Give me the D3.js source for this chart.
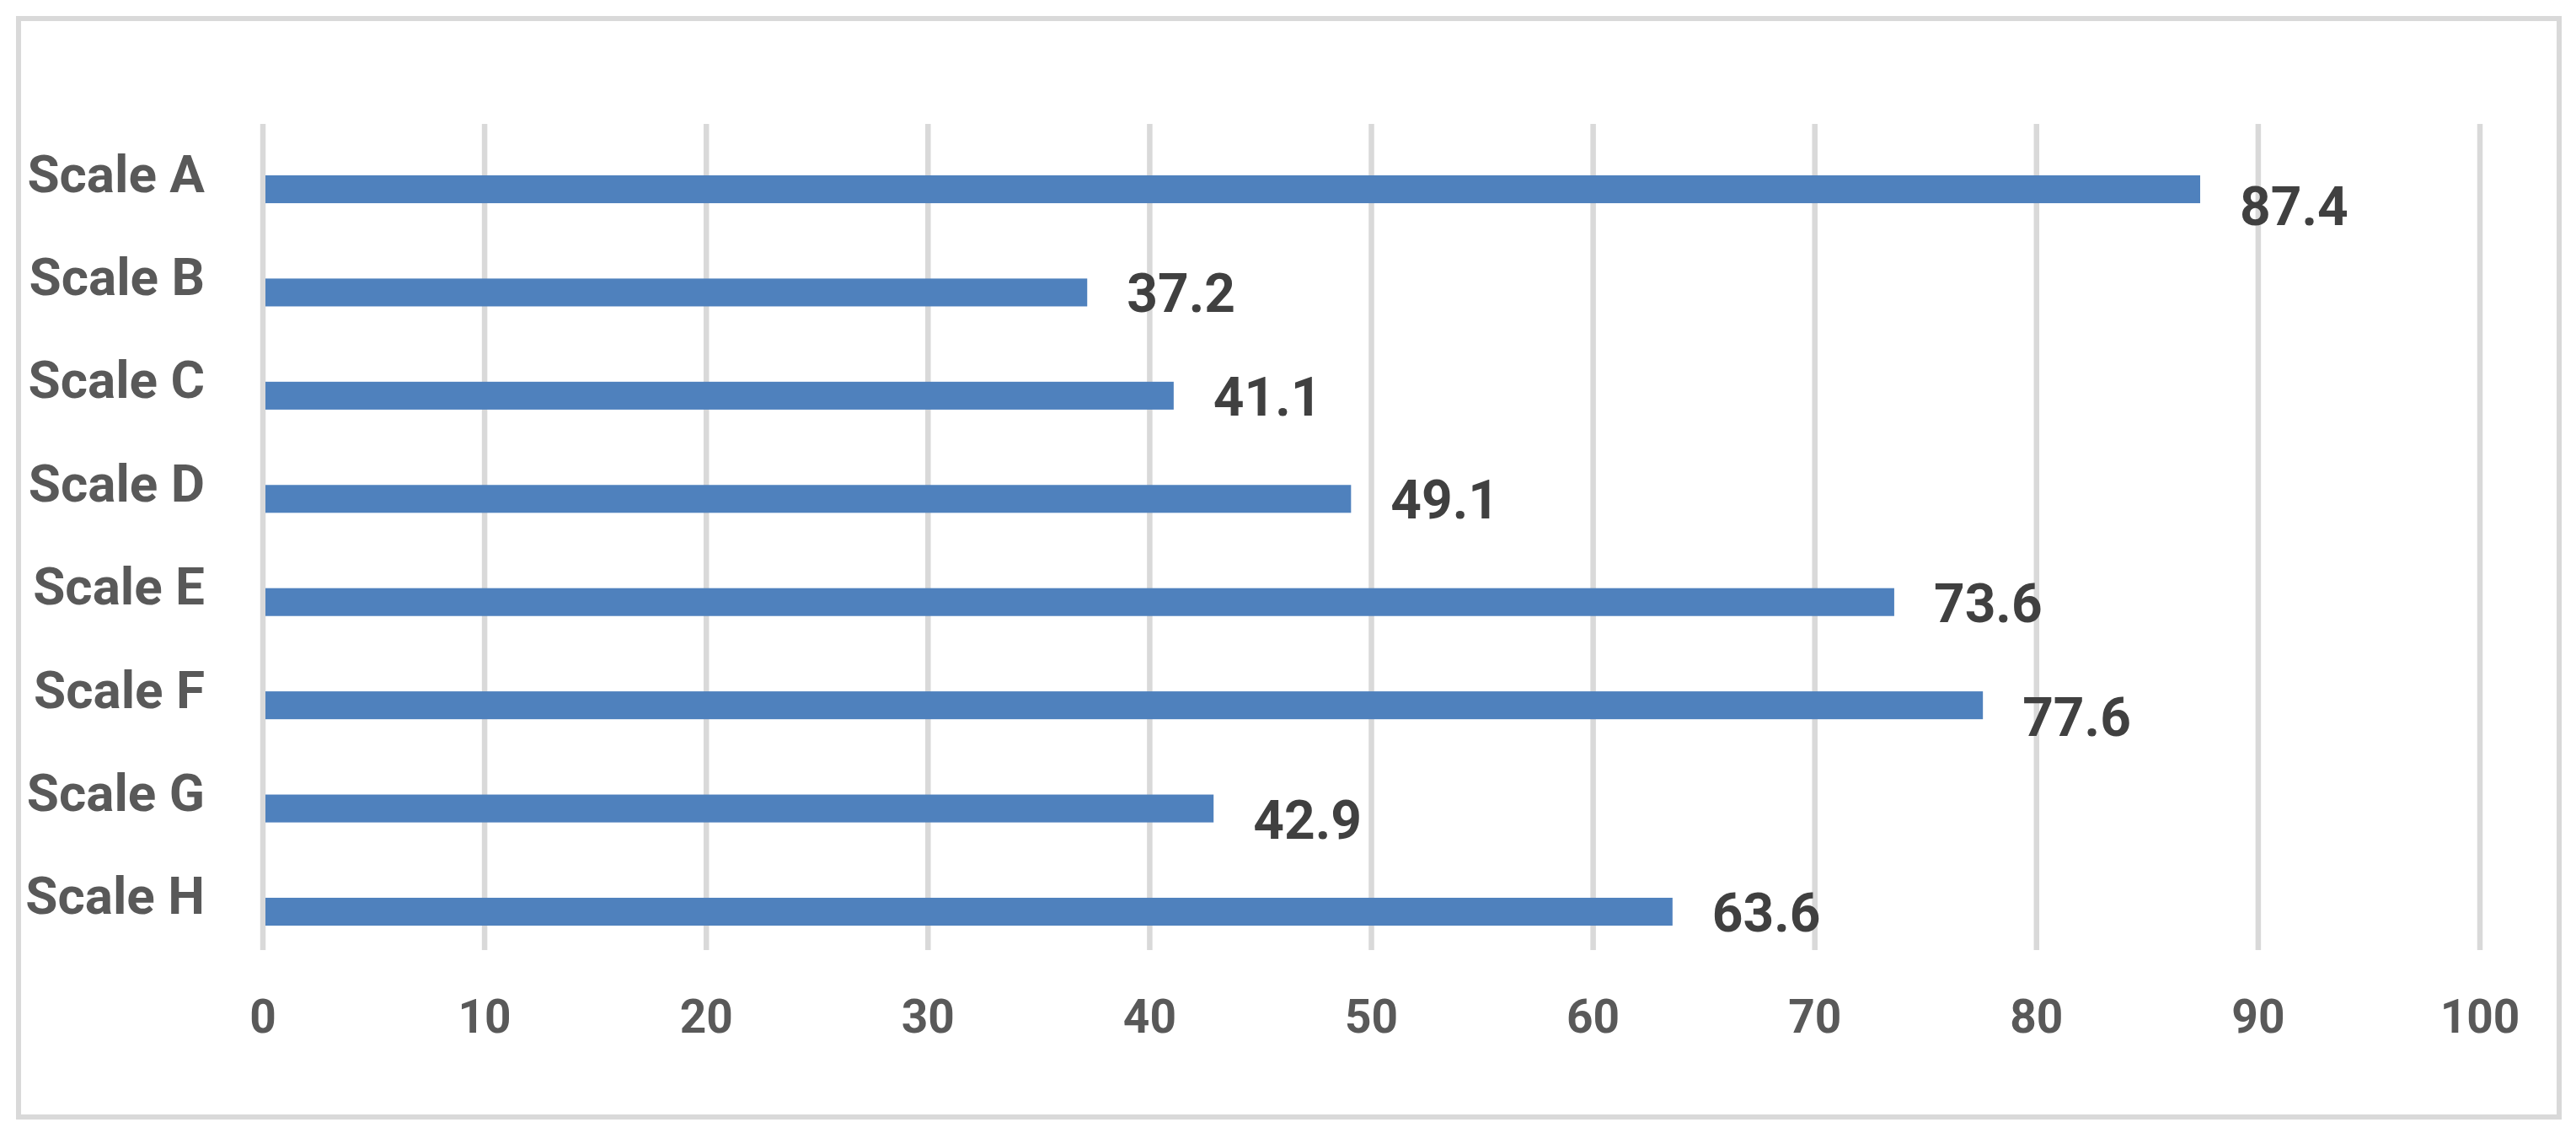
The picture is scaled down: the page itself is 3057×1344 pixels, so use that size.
<!DOCTYPE html>
<html>
<head>
<meta charset="utf-8">
<script src="https://cdn.jsdelivr.net/npm/d3@7"></script>
<style>
  html, body { margin: 0; padding: 0; background: #ffffff; }
  svg { display: block; }
</style>
</head>
<body>
<svg id="chart" width="3057" height="1344"></svg>
<script>
// ---- data ----
const categories = ["Scale A", "Scale B", "Scale C", "Scale D", "Scale E", "Scale F", "Scale G", "Scale H"];
const values = [87.4, 37.2, 41.1, 49.1, 73.6, 77.6, 42.9, 63.6];
const tickValues = [0, 10, 20, 30, 40, 50, 60, 70, 80, 90, 100];

// ---- layout (not data) ----
const W = 3057, H = 1344;
const gridTop = 147, gridBottom = 1127;
const labelNudge = [19, 0, 0, 0, 0, 13, 12, 0]; // vertical offsets of value labels as placed in the original

const svg = d3.select("#chart");

// outer frame
svg.append("rect")
  .attr("x", 22).attr("y", 22)
  .attr("width", 3037 - 22).attr("height", 1325 - 22)
  .attr("fill", "#ffffff")
  .attr("stroke", "#d9d9d9")
  .attr("stroke-width", 6);

const x = d3.scaleLinear().domain([0, 100]).range([311.5, 2942.5]);
const y = d3.scaleBand().domain(categories)
  .range([163.3, 1142.7])
  .paddingInner(0.73)
  .paddingOuter(0.365);

// x axis with gridlines
const axis = svg.append("g")
  .attr("transform", `translate(0,${gridBottom})`)
  .call(d3.axisBottom(x)
    .tickValues(tickValues)
    .tickSizeInner(-(gridBottom - gridTop))
    .tickSizeOuter(0)
    .tickFormat(d3.format("d")));
axis.select(".domain").remove();
axis.selectAll(".tick line")
  .attr("stroke", "#d9d9d9")
  .attr("stroke-width", 6.5);
axis.selectAll(".tick text")
  .attr("y", 98)
  .attr("dy", 0)
  .attr("fill", "#595959")
  .style("font-family", "Roboto, 'Liberation Sans', sans-serif")
  .style("font-weight", "700")
  .style("font-size", "55px");

// bars
svg.append("g").selectAll("rect")
  .data(values)
  .join("rect")
  .attr("x", x(0) + 3.5)
  .attr("y", (d, i) => y(categories[i]))
  .attr("width", d => x(d) - x(0) - 3.5)
  .attr("height", y.bandwidth())
  .attr("fill", "#4f81bd");

// category labels
svg.append("g").selectAll("text")
  .data(categories)
  .join("text")
  .attr("x", 243)
  .attr("y", d => y(d) + y.bandwidth() / 2 + 3)
  .attr("text-anchor", "end")
  .attr("fill", "#595959")
  .style("font-family", "Roboto, 'Liberation Sans', sans-serif")
  .style("font-weight", "700")
  .style("font-size", "62px")
  .text(d => d);

// value labels
svg.append("g").selectAll("text")
  .data(values)
  .join("text")
  .attr("x", d => x(d) + 47)
  .attr("y", (d, i) => y(categories[i]) + y.bandwidth() / 2 + 23.5 + labelNudge[i])
  .attr("fill", "#404040")
  .style("font-family", "Roboto, 'Liberation Sans', sans-serif")
  .style("font-weight", "700")
  .style("font-size", "64px")
  .text(d => d3.format(".1f")(d));
</script>
</body>
</html>
